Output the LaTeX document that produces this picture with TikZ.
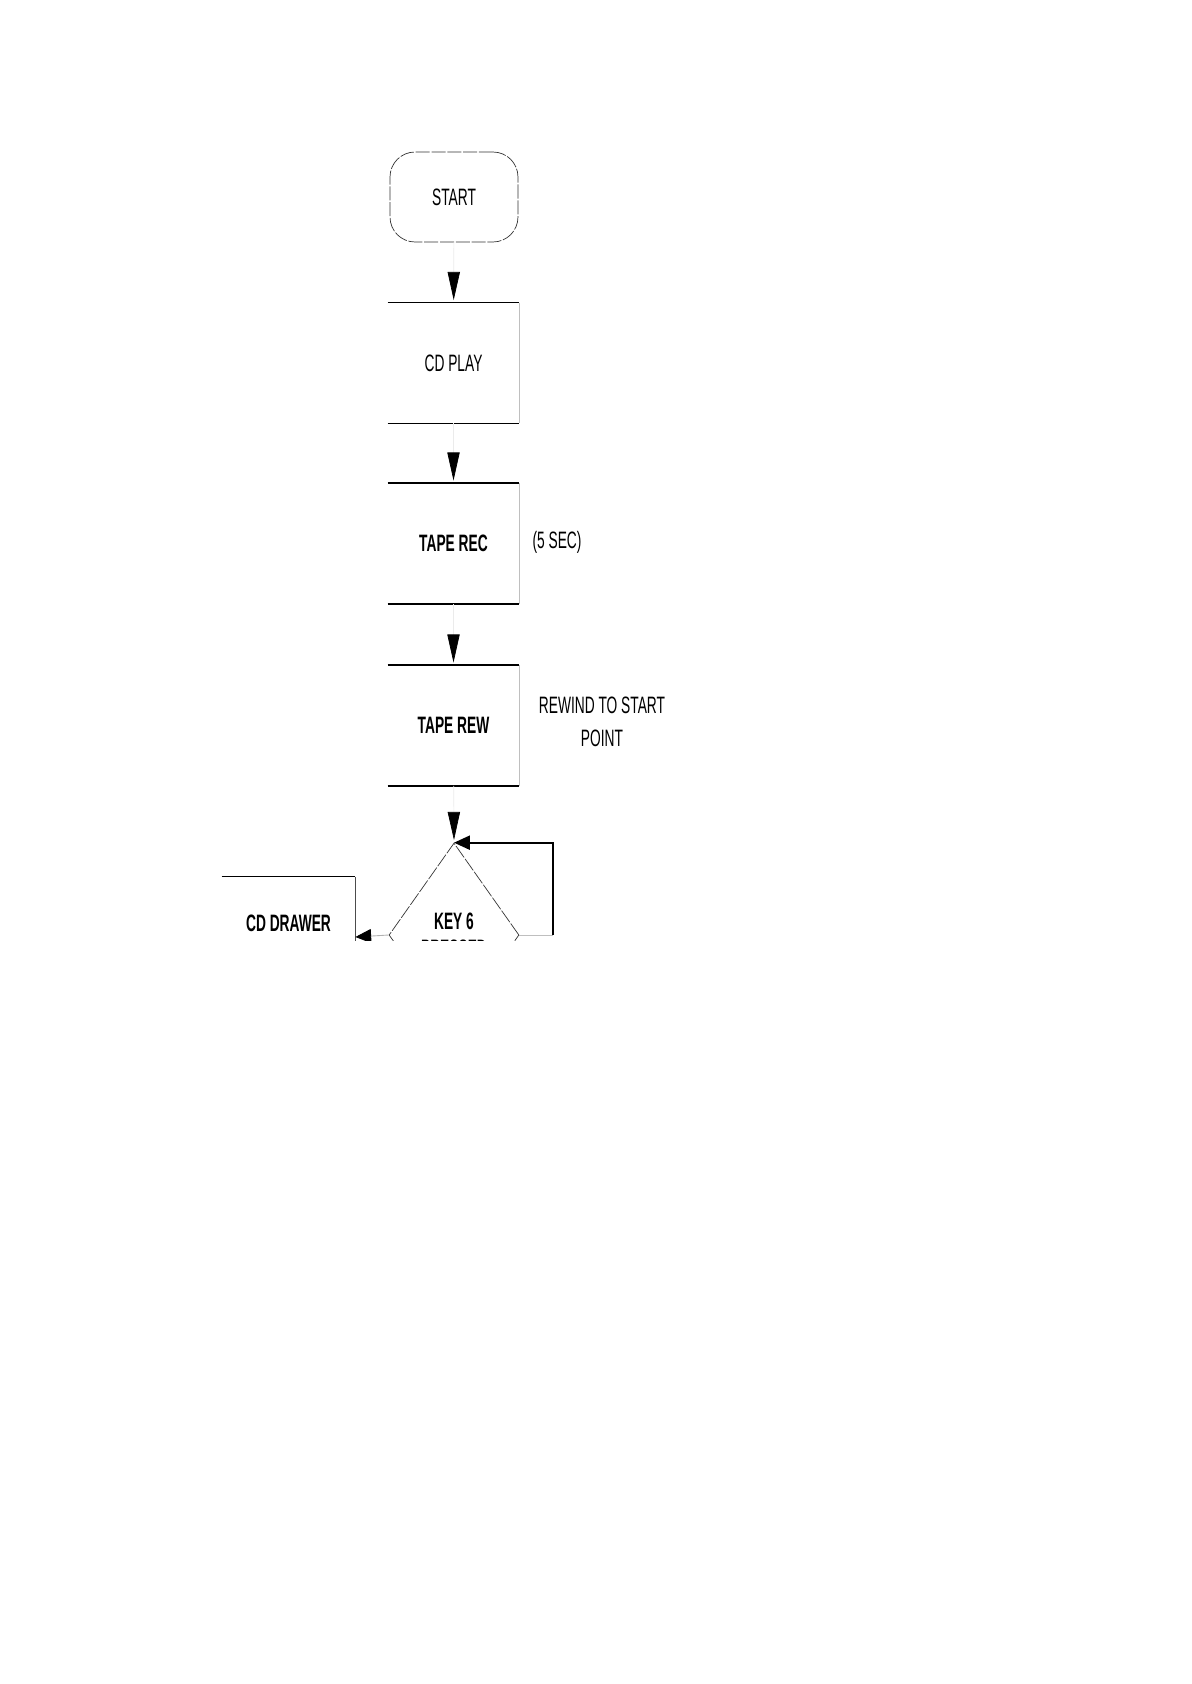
\documentclass[tikz,border=0pt]{standalone}
\usepackage{fontspec}
\setmainfont{Liberation Sans}[FakeStretch=0.58]
\usetikzlibrary{shapes.geometric,arrows.meta}

\begin{document}
\begin{tikzpicture}[
    % Una unidad = un pixel de la hoja (eje y hacia abajo)
    x=0.02cm, y=-0.02cm,
    % Estilo general del texto
    every node/.style={font=\fontsize{13.5}{18.5}\selectfont, align=center, inner sep=0pt},
    % Caja de proceso (los bordes se trazan aparte)
    procbox/.style={rectangle, minimum width=2.62cm, minimum height=2.4cm},
    % Terminal redondeado
    startbox/.style={rectangle, draw=black!80, thin, rounded corners=0.5cm,
        dash pattern=on 8pt off 1pt, minimum width=2.56cm, minimum height=1.8cm},
    % Rombo de decision
    decision/.style={diamond, draw=black!80, thin, dash pattern=on 8pt off 1pt,
        minimum width=2.6cm, minimum height=3.68cm},
    % Bordes de las cajas
    boxedge/.style={draw=black, line width=0.8pt},
    sideedge/.style={draw=black!25, line width=0.5pt},
    % Conectores
    flowarrow/.style={draw=black!8, line width=0.4pt, shorten >=1.5pt,
        -{Triangle[length=16pt, width=7pt, color=black]}},
    sidearrow/.style={draw=black!30, line width=0.5pt,
        -{Triangle[length=9pt, width=8pt, color=black]}},
    looparrow/.style={draw=black, line width=1pt,
        -{Triangle[length=9pt, width=8pt, color=black]}}
]
    % Tamano de la hoja
    \useasboundingbox (0,0) rectangle (1191,1684);

    % El diagrama queda cortado en la parte inferior
    \begin{scope}
        \clip (0,0) rectangle (1191,940);

        % Nodos principales
        \node[startbox] (start) at (454,197) {START};
        \node[procbox] (cdplay) at (453.5,363) {CD PLAY};
        \node[procbox] (taperec) at (453.5,543.5) {\bfseries TAPE REC};
        \node[procbox] (taperew) at (453.5,725.5) {\bfseries TAPE REW};
        \node[decision, font=\fontsize{13.5}{15.4}\selectfont\bfseries] (key) at (454,935) {KEY 6\\PRESSED};
        \node[procbox, minimum width=2.66cm, font=\fontsize{13.5}{15.4}\selectfont\bfseries] (drawer) at (288.5,937) {CD DRAWER\\OPEN};

        % Notas laterales
        \node (recnote) at (557,542) {(5 SEC)};
        \node[font=\fontsize{13.5}{18.8}\selectfont] (rewnote) at (602,722) {REWIND TO START\\POINT};

        % Bordes de las cajas de proceso
        \foreach \b in {cdplay, taperec, taperew}{
            \draw[boxedge] (\b.north west) -- (\b.north east);
            \draw[boxedge] (\b.south west) -- (\b.south east);
            \draw[sideedge] (\b.north east) -- (\b.south east);
        }
        \draw[boxedge] (drawer.north west) -- (drawer.north east);
        \draw[draw=black!70, line width=0.5pt] (drawer.north east) -- (drawer.south east);

        % Flechas del flujo principal
        \draw[flowarrow] (start) -- (cdplay);
        \draw[flowarrow] (cdplay) -- (taperec);
        \draw[flowarrow] (taperec) -- (taperew);
        \draw[flowarrow] (taperew) -- (key.north);

        % Salida a la izquierda
        \draw[sidearrow] (key.west) -- (drawer.east);

        % Lazo de espera a la derecha
        \coordinate (loopse) at (553,935);
        \draw[sideedge] (key.east) -- (loopse);
        \draw[looparrow] (loopse) |- (key.north);
    \end{scope}
\end{tikzpicture}
\end{document}
